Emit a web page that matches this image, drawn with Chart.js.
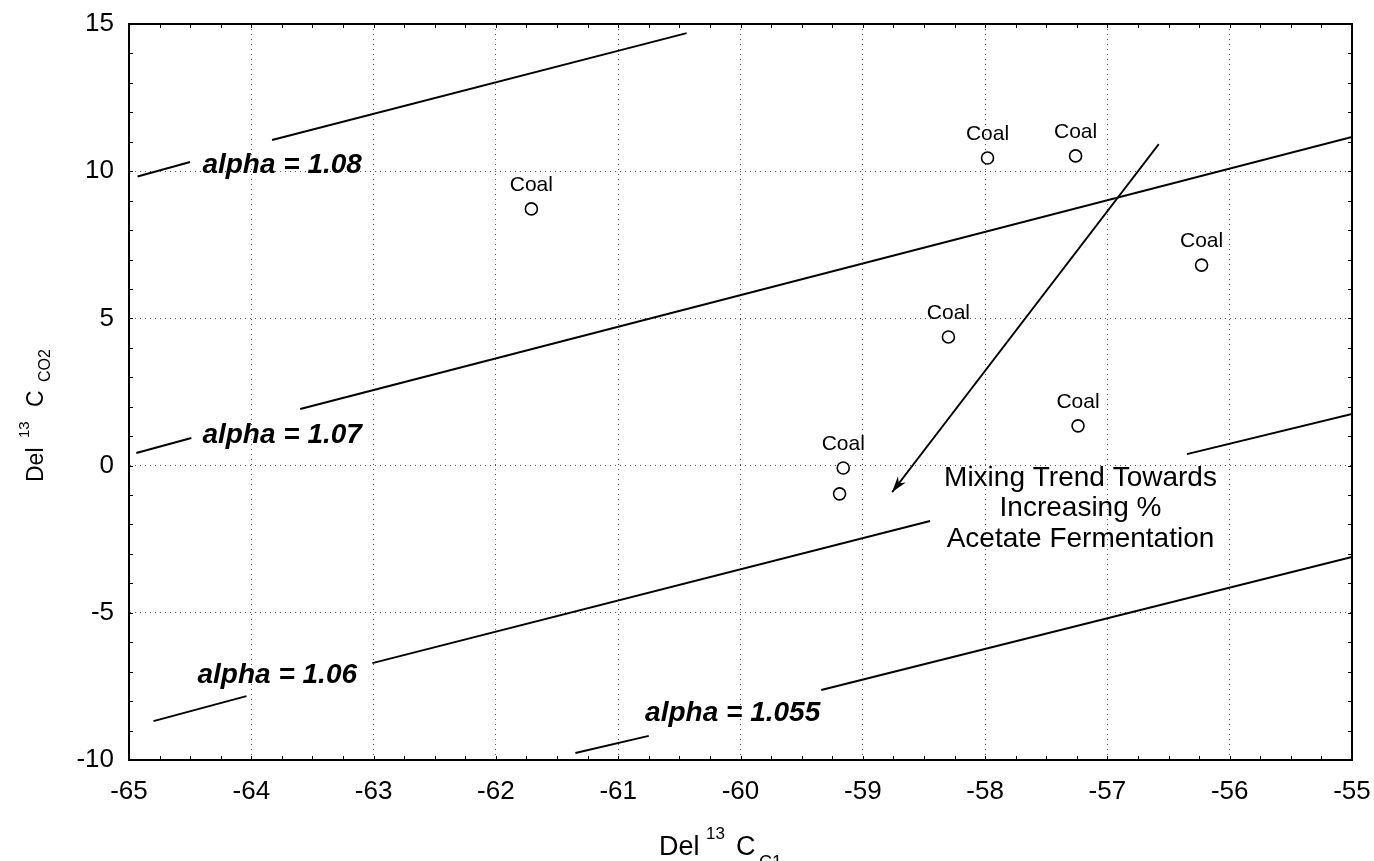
<!DOCTYPE html>
<html>
<head>
<meta charset="utf-8">
<script src="https://cdn.jsdelivr.net/npm/chart.js@4.4.1/dist/chart.umd.min.js"></script>
<style>
  html, body { margin: 0; padding: 0; background: #fff; }
</style>
</head>
<body>
<canvas id="chart" width="1374" height="861"></canvas>
<script>
const xTicks = [-65, -64, -63, -62, -61, -60, -59, -58, -57, -56, -55];
const yTicks = [-10, -5, 0, 5, 10, 15];

// sample points (Del13C C1 vs Del13C CO2)
const coalX = [-61.71, -57.98, -57.26, -56.23, -58.30, -57.24, -59.16, -59.19];
const coalY = [8.72, 10.45, 10.52, 6.81, 4.37, 1.35, -0.08, -0.96];
const coalLabels = ['Coal', 'Coal', 'Coal', 'Coal', 'Coal', 'Coal', 'Coal', ''];

// alpha lines, null = gap where the label sits
const alpha108X = [-64.93, -64.50, null, -63.83, -60.44];
const alpha108Y = [9.82, 10.31, null, 11.06, 14.69];
const alpha107X = [-64.94, -64.49, null, -63.60, -55.00];
const alpha107Y = [0.43, 0.94, null, 1.92, 11.16];
const alpha106X = [-64.80, -64.04, null, -63.01, -58.45, null, -56.35, -55.00];
const alpha106Y = [-8.68, -7.83, null, -6.71, -1.88, null, 0.39, 1.75];
const alpha1055X = [-61.35, -60.75, null, -59.34, -55.00];
const alpha1055Y = [-9.76, -9.18, null, -7.62, -3.10];

// mixing trend arrow (start -> tip)
const arrowX = [-56.58, -58.76];
const arrowY = [10.92, -0.90];

const alphaLabels = [
  { text: 'alpha = 1.08', x: -64.40, y: 10.21 },
  { text: 'alpha = 1.07', x: -64.40, y: 1.04 },
  { text: 'alpha = 1.06', x: -64.44, y: -7.11 },
  { text: 'alpha = 1.055', x: -60.78, y: -8.40 }
];
const mixingText = ['Mixing Trend Towards', 'Increasing %', 'Acetate Fermentation'];

const FONT = 'Arial, "Liberation Sans", sans-serif';

function segments(xs, ys) {
  const out = [];
  let cur = [];
  xs.forEach((x, i) => {
    if (x === null) {
      if (cur.length) out.push(cur);
      cur = [];
    } else {
      cur.push({ x: x, y: ys[i] });
    }
  });
  if (cur.length) out.push(cur);
  return out;
}

const lineSets = [];
[[alpha108X, alpha108Y], [alpha107X, alpha107Y], [alpha106X, alpha106Y], [alpha1055X, alpha1055Y]]
  .forEach(([xs, ys]) => {
    segments(xs, ys).forEach(seg => {
      lineSets.push({
        data: seg,
        showLine: true,
        borderColor: '#000',
        borderWidth: 2,
        pointRadius: 0,
        fill: false
      });
    });
  });

const arrowSet = {
  id: 'arrow',
  data: arrowX.map((x, i) => ({ x: x, y: arrowY[i] })),
  showLine: true,
  borderColor: '#000',
  borderWidth: 1.8,
  pointRadius: 0,
  fill: false
};

const coalSet = {
  data: coalX.map((x, i) => ({ x: x, y: coalY[i] })),
  showLine: false,
  pointRadius: 6,
  pointBorderWidth: 1.6,
  pointBorderColor: '#000',
  pointBackgroundColor: '#fff'
};

const decor = {
  id: 'decor',
  afterDatasetsDraw(chart) {
    const ctx = chart.ctx;
    const xs = chart.scales.x, ys = chart.scales.y;
    const a = chart.chartArea;
    ctx.save();

    // frame
    ctx.strokeStyle = '#000';
    ctx.lineWidth = 2;
    ctx.strokeRect(a.left, a.top, a.right - a.left, a.bottom - a.top);

    // small inward ticks
    ctx.lineWidth = 1;
    ctx.beginPath();
    for (let v = xs.min; v <= xs.max + 1e-9; v += 0.25) {
      const px = Math.round(xs.getPixelForValue(v)) + 0.5;
      ctx.moveTo(px, a.bottom); ctx.lineTo(px, a.bottom - 4);
      ctx.moveTo(px, a.top); ctx.lineTo(px, a.top + 4);
    }
    for (let v = ys.min; v <= ys.max + 1e-9; v += 1) {
      const py = Math.round(ys.getPixelForValue(v)) + 0.5;
      ctx.moveTo(a.left, py); ctx.lineTo(a.left + 4, py);
      ctx.moveTo(a.right, py); ctx.lineTo(a.right - 4, py);
    }
    ctx.stroke();

    // arrowhead at the tip of the mixing line
    const idx = chart.data.datasets.findIndex(d => d.id === 'arrow');
    const pts = chart.getDatasetMeta(idx).data;
    const p0 = pts[0], p1 = pts[pts.length - 1];
    const ang = Math.atan2(p1.y - p0.y, p1.x - p0.x);
    ctx.fillStyle = '#000';
    ctx.beginPath();
    ctx.moveTo(p1.x, p1.y);
    ctx.lineTo(p1.x - 16 * Math.cos(ang) + 5 * Math.sin(ang), p1.y - 16 * Math.sin(ang) - 5 * Math.cos(ang));
    ctx.lineTo(p1.x - 11 * Math.cos(ang), p1.y - 11 * Math.sin(ang));
    ctx.lineTo(p1.x - 16 * Math.cos(ang) - 5 * Math.sin(ang), p1.y - 16 * Math.sin(ang) + 5 * Math.cos(ang));
    ctx.closePath();
    ctx.fill();

    // Coal labels
    ctx.font = '21px ' + FONT;
    ctx.textAlign = 'center';
    ctx.textBaseline = 'middle';
    coalLabels.forEach((t, i) => {
      if (!t) return;
      ctx.fillText(t, xs.getPixelForValue(coalX[i]), ys.getPixelForValue(coalY[i]) - 24);
    });

    // alpha labels
    ctx.font = 'italic bold 28px ' + FONT;
    ctx.textAlign = 'left';
    alphaLabels.forEach(l => {
      ctx.fillText(l.text, xs.getPixelForValue(l.x), ys.getPixelForValue(l.y));
    });

    // mixing trend note
    ctx.font = '28px ' + FONT;
    ctx.textAlign = 'center';
    const mx = xs.getPixelForValue(-57.22);
    const my = ys.getPixelForValue(-0.42);
    mixingText.forEach((t, i) => ctx.fillText(t, mx, my + i * 30.5));

    // x axis title: Del 13 C C1
    ctx.textAlign = 'left';
    ctx.textBaseline = 'alphabetic';
    ctx.font = '27px ' + FONT;
    ctx.fillText('Del', 659, 855);
    ctx.font = '17px ' + FONT;
    ctx.fillText('13', 706, 839);
    ctx.font = '27px ' + FONT;
    ctx.fillText('C', 736, 855);
    ctx.font = '18px ' + FONT;
    ctx.fillText('C1', 759, 868);

    // y axis title: Del 13 C CO2 (rotated)
    ctx.translate(43, 482);
    ctx.rotate(-Math.PI / 2);
    ctx.font = '23px ' + FONT;
    ctx.fillText('Del', 0, 0);
    ctx.font = '15px ' + FONT;
    ctx.fillText('13', 44, -14);
    ctx.font = '23px ' + FONT;
    ctx.fillText('C', 75, 0);
    ctx.font = '16px ' + FONT;
    ctx.fillText('CO2', 100, 7);

    ctx.restore();
  }
};

new Chart(document.getElementById('chart'), {
  type: 'scatter',
  data: { datasets: [...lineSets, arrowSet, coalSet] },
  options: {
    responsive: false,
    animation: false,
    layout: { padding: { top: 24, right: 22, left: 0, bottom: 0 } },
    plugins: { legend: { display: false }, tooltip: { enabled: false } },
    scales: {
      x: {
        type: 'linear',
        min: -65,
        max: -55,
        afterBuildTicks: s => { s.ticks = xTicks.map(v => ({ value: v })); },
        afterFit: s => { s.height = 101; s.paddingLeft = 0; s.paddingRight = 0; },
        ticks: { color: '#000', font: { size: 26, family: FONT }, padding: 16, maxRotation: 0 },
        grid: { color: '#555', lineWidth: 1, drawTicks: false },
        border: { display: true, color: '#000', width: 2, dash: [1, 4] }
      },
      y: {
        type: 'linear',
        min: -10,
        max: 15,
        afterBuildTicks: s => { s.ticks = yTicks.map(v => ({ value: v })); },
        afterFit: s => { s.width = 129; s.paddingTop = 0; s.paddingBottom = 0; },
        ticks: { color: '#000', font: { size: 26, family: FONT }, padding: 15 },
        grid: { color: '#555', lineWidth: 1, drawTicks: false },
        border: { display: true, color: '#000', width: 2, dash: [1, 4] }
      }
    }
  },
  plugins: [decor]
});
</script>
</body>
</html>
